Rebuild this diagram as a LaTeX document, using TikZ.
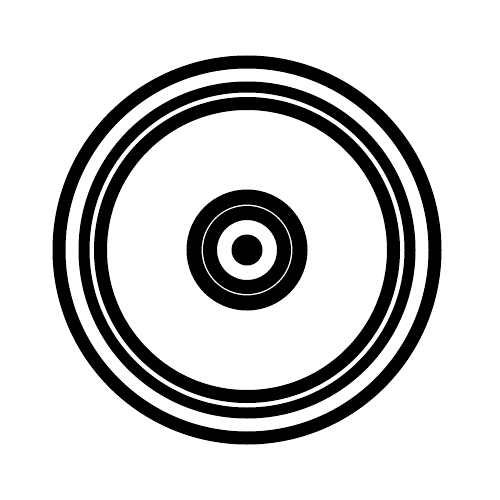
\documentclass[tikz,border=0pt]{standalone}
\begin{document}
\begin{tikzpicture}[x=1pt,y=-1pt,ring/.style={draw=black,line width=#1}]
\useasboundingbox[fill=white] (0,0) rectangle (500,500);
\coordinate (c) at (247,250);
\draw[ring=13] (c) circle[radius=188];
\draw[ring=11] (c) circle[radius=163];
\draw[ring=13] (c) circle[radius=146.5];
\draw[ring=15] (c) circle[radius=53];
\draw[ring=14] (c) circle[radius=37];
\fill[black] (c) circle[radius=15.5];
\end{tikzpicture}
\end{document}
